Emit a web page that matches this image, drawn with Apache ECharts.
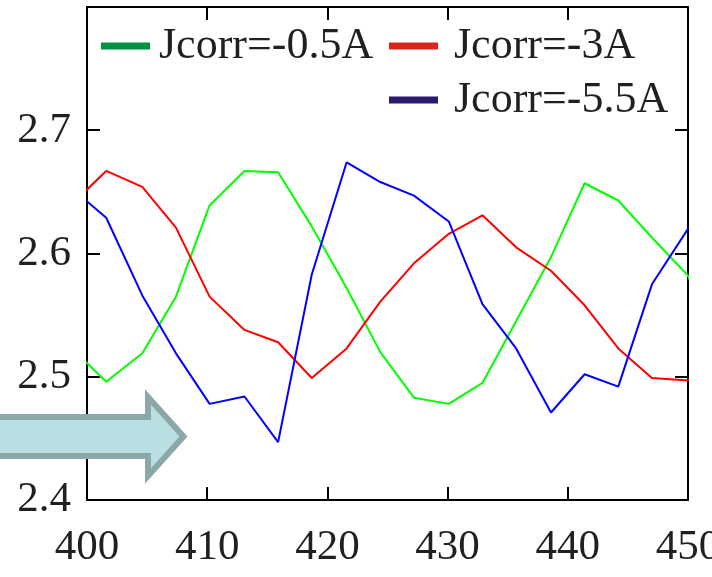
<!DOCTYPE html>
<html>
<head>
<meta charset="utf-8">
<script src="https://cdn.jsdelivr.net/npm/echarts@6/dist/echarts.min.js"></script>
<style>
  html, body { margin: 0; padding: 0; background: #ffffff; }
  #chart { width: 712px; height: 577px; }
</style>
</head>
<body>
<div id="chart"></div>
<script>
// Sample positions along the horizontal axis
const xValues = [399.8, 401.6, 404.6, 407.4, 410.2, 413.1, 415.9, 418.7, 421.6, 424.4,
                 427.2, 430.1, 432.9, 435.7, 438.6, 441.4, 444.2, 447.0, 450.0, 450.6];

// Curves for each correction current
const seriesNames = ['Jcorr=-0.5A', 'Jcorr=-3A', 'Jcorr=-5.5A'];
const jcorr05 = [2.513, 2.496, 2.519, 2.565, 2.639, 2.667, 2.666, 2.622, 2.572, 2.520,
                 2.483, 2.478, 2.495, 2.545, 2.597, 2.657, 2.643, 2.613, 2.582, 2.567];
const jcorr3  = [2.650, 2.667, 2.654, 2.621, 2.565, 2.538, 2.528, 2.499, 2.523, 2.561,
                 2.592, 2.616, 2.631, 2.605, 2.586, 2.558, 2.523, 2.499, 2.497, 2.502];
const jcorr55 = [2.644, 2.629, 2.566, 2.519, 2.478, 2.484, 2.447, 2.583, 2.674, 2.658,
                 2.647, 2.626, 2.559, 2.523, 2.471, 2.502, 2.492, 2.575, 2.620, 2.624];

// Axis ticks
const xTicks = [400, 410, 420, 430, 440, 450];
const yTickLabels = ['2.4', '2.5', '2.6', '2.7'];

const FONT = 'Liberation Serif';
const TEXT = '#231f20';

function pairs(ys) { return xValues.map((x, i) => [x, ys[i]]); }

const axisLine = { show: true, lineStyle: { color: '#000', width: 2 } };
const axisTick = { show: true, inside: true, length: 13, lineStyle: { color: '#000', width: 2 } };

function xAxisDef(position, showLabel) {
  return {
    type: 'value', position: position,
    min: xTicks[0], max: xTicks[xTicks.length - 1], interval: xTicks[1] - xTicks[0],
    axisLine: axisLine, axisTick: axisTick, splitLine: { show: false },
    axisLabel: {
      show: showLabel, fontFamily: FONT, fontSize: 43, color: TEXT, margin: 26,
      hideOverlap: false,
      formatter: v => String(Math.round(v))
    }
  };
}
function yAxisDef(position, showLabel) {
  return {
    type: 'value', position: position,
    min: 2.4, max: 2.8, interval: 0.1,
    axisLine: axisLine, axisTick: axisTick, splitLine: { show: false },
    axisLabel: {
      show: showLabel, fontFamily: FONT, fontSize: 43, color: TEXT, margin: 16,
      showMaxLabel: false,
      formatter: v => {
        const idx = Math.round((v - 2.4) / 0.1);
        return yTickLabels[idx] !== undefined ? yTickLabels[idx] : '';
      }
    }
  };
}

function legendDef(name, color, left, top, gap) {
  return {
    left: left, top: top, padding: 0,
    selectedMode: false,
    itemWidth: 49, itemHeight: 7,
    data: [{ name: name, icon: 'rect', itemStyle: { color: color, borderWidth: 0 } }],
    textStyle: { fontFamily: FONT, fontSize: 44, color: TEXT, padding: [0, 0, 0, gap] }
  };
}

const lineColors = ['#00ff00', '#ff0000', '#0000ff'];
const seriesData = [jcorr05, jcorr3, jcorr55];

const chart = echarts.init(document.getElementById('chart'), null, { renderer: 'canvas' });
chart.setOption({
  animation: false,
  backgroundColor: '#ffffff',
  grid: { left: 87, right: 24, top: 7, bottom: 77, containLabel: false, outerBoundsMode: 'none' },
  xAxis: [xAxisDef('bottom', true), xAxisDef('top', false)],
  yAxis: [yAxisDef('left', true), yAxisDef('right', false)],
  legend: [
    legendDef(seriesNames[0], '#009245', 101, 24, 4),
    legendDef(seriesNames[1], '#d8261f', 389, 24, 11),
    legendDef(seriesNames[2], '#2b1a6f', 389, 78, 11)
  ],
  series: seriesNames.map((name, i) => ({
    name: name,
    type: 'line',
    xAxisIndex: 0, yAxisIndex: 0,
    data: pairs(seriesData[i]),
    symbol: 'none',
    clip: false,
    color: lineColors[i],
    lineStyle: { color: lineColors[i], width: 2 }
  })),
  graphic: [{
    // Block arrow in the lower-left corner
    type: 'polygon',
    z: 100,
    shape: {
      points: [[-10, 417], [148, 417], [148, 397], [183.5, 436.5], [148, 476], [148, 456], [-10, 456]]
    },
    style: { fill: '#badfe3', stroke: '#8ba7a8', lineWidth: 6, lineJoin: 'miter' }
  }]
});
</script>
</body>
</html>
